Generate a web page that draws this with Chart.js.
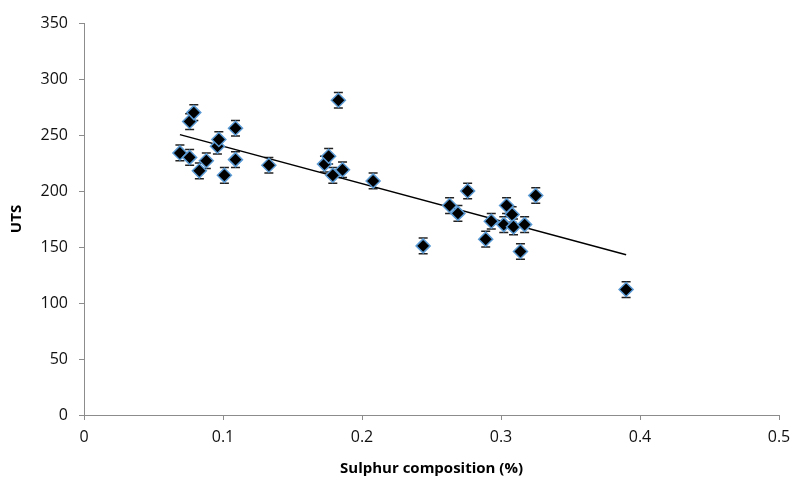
<!DOCTYPE html>
<html lang="en">
<head>
  <meta charset="UTF-8">
  <title>UTS vs Sulphur composition</title>
  <script src="https://cdn.jsdelivr.net/npm/chart.js"></script>
  <style>
    html, body { margin: 0; padding: 0; background: #fff; }
    #wrap { width: 793px; height: 482px; }
  </style>
</head>
<body>
  <div id="wrap">
    <canvas id="utsChart" width="793" height="482"></canvas>
  </div>

  <script>
    // sulphur composition (%) and UTS readings
    const sulphur = [0.069, 0.076, 0.076, 0.079, 0.083, 0.088, 0.096, 0.097, 0.101, 0.109, 0.109,
                     0.133, 0.173, 0.176, 0.179, 0.183, 0.186, 0.208, 0.244, 0.263, 0.269, 0.276,
                     0.289, 0.293, 0.302, 0.304, 0.308, 0.309, 0.314, 0.317, 0.325, 0.390];
    const uts = [234, 230, 262, 270, 218, 227, 240, 246, 214, 228, 256,
                 223, 224, 231, 214, 281, 219, 209, 151, 187, 180, 200,
                 157, 173, 170, 187, 179, 168, 146, 170, 196, 112];
    const utsErr = [7, 7, 7, 7, 7, 7, 7, 7, 7, 7, 7,
                    7, 7, 7, 7, 7, 7, 7, 7, 7, 7, 7,
                    7, 7, 7, 7, 7, 7, 7, 7, 7, 7];

    const xTicks = [0, 0.1, 0.2, 0.3, 0.4, 0.5];
    const yTicks = [0, 50, 100, 150, 200, 250, 300, 350];

    // least squares trendline over the data
    function trend() {
      const n = sulphur.length;
      let sx = 0, sy = 0, sxx = 0, sxy = 0;
      for (let i = 0; i < n; i++) {
        sx += sulphur[i]; sy += uts[i];
        sxx += sulphur[i] * sulphur[i]; sxy += sulphur[i] * uts[i];
      }
      const m = (n * sxy - sx * sy) / (n * sxx - sx * sx);
      const b = (sy - m * sx) / n;
      const x0 = Math.min(...sulphur), x1 = Math.max(...sulphur);
      return [{ x: x0, y: m * x0 + b }, { x: x1, y: m * x1 + b }];
    }

    const points = sulphur.map((s, i) => ({ x: s, y: uts[i] }));

    // vertical error bars with caps, drawn under the markers
    const errorBars = {
      id: "errorBars",
      beforeDatasetsDraw(chart) {
        const { ctx, scales } = chart;
        ctx.save();
        ctx.strokeStyle = "#222";
        ctx.lineWidth = 1.5;
        points.forEach((p, i) => {
          const x = scales.x.getPixelForValue(p.x);
          const yTop = scales.y.getPixelForValue(p.y + utsErr[i]);
          const yBot = scales.y.getPixelForValue(p.y - utsErr[i]);
          ctx.beginPath();
          ctx.moveTo(x, yTop); ctx.lineTo(x, yBot);
          ctx.moveTo(x - 4.5, yTop); ctx.lineTo(x + 4.5, yTop);
          ctx.moveTo(x - 4.5, yBot); ctx.lineTo(x + 4.5, yBot);
          ctx.stroke();
        });
        ctx.restore();
      },
    };

    const axisColor = "#8c8c8c";
    const tickFont = { family: "Open Sans", size: 16 };
    const titleFont = { family: "Open Sans", size: 15, weight: "bold" };

    new Chart(document.getElementById("utsChart").getContext("2d"), {
      type: "scatter",
      data: {
        datasets: [
          {
            label: "UTS",
            data: points,
            pointStyle: "rectRot",
            pointRadius: 7,
            pointHoverRadius: 7,
            backgroundColor: "#000",
            borderColor: "#5b9bd5",
            borderWidth: 1.5,
            order: 1,
          },
          {
            label: "Linear (UTS)",
            type: "line",
            data: trend(),
            borderColor: "#000",
            borderWidth: 1.5,
            pointRadius: 0,
            fill: false,
            order: 2,
          },
        ],
      },
      options: {
        responsive: false,
        animation: false,
        layout: { padding: { top: 23, right: 14, left: 0, bottom: 0 } },
        plugins: {
          legend: { display: false },
          tooltip: { enabled: false },
        },
        scales: {
          x: {
            type: "linear",
            min: 0,
            max: 0.5,
            afterBuildTicks: (s) => { s.ticks = xTicks.map((v) => ({ value: v })); },
            afterFit: (s) => { s.height = 67; s.paddingRight = 0; },
            border: { color: axisColor, width: 1 },
            grid: { drawOnChartArea: false, drawTicks: true, tickLength: 5, color: axisColor },
            ticks: { font: tickFont, color: "#111", padding: 8, maxRotation: 0 },
            title: { display: true, text: "Sulphur composition (%)", font: titleFont, color: "#000", padding: { top: 2 } },
          },
          y: {
            min: 0,
            max: 350,
            afterBuildTicks: (s) => { s.ticks = yTicks.map((v) => ({ value: v })); },
            afterFit: (s) => { s.width = 84; },
            border: { color: axisColor, width: 1 },
            grid: { drawOnChartArea: false, drawTicks: true, tickLength: 5, color: axisColor },
            ticks: { font: tickFont, color: "#111", padding: 11 },
            title: { display: true, text: "UTS", font: titleFont, color: "#000", padding: { top: 8 } },
          },
        },
      },
      plugins: [errorBars],
    });
  </script>
</body>
</html>
